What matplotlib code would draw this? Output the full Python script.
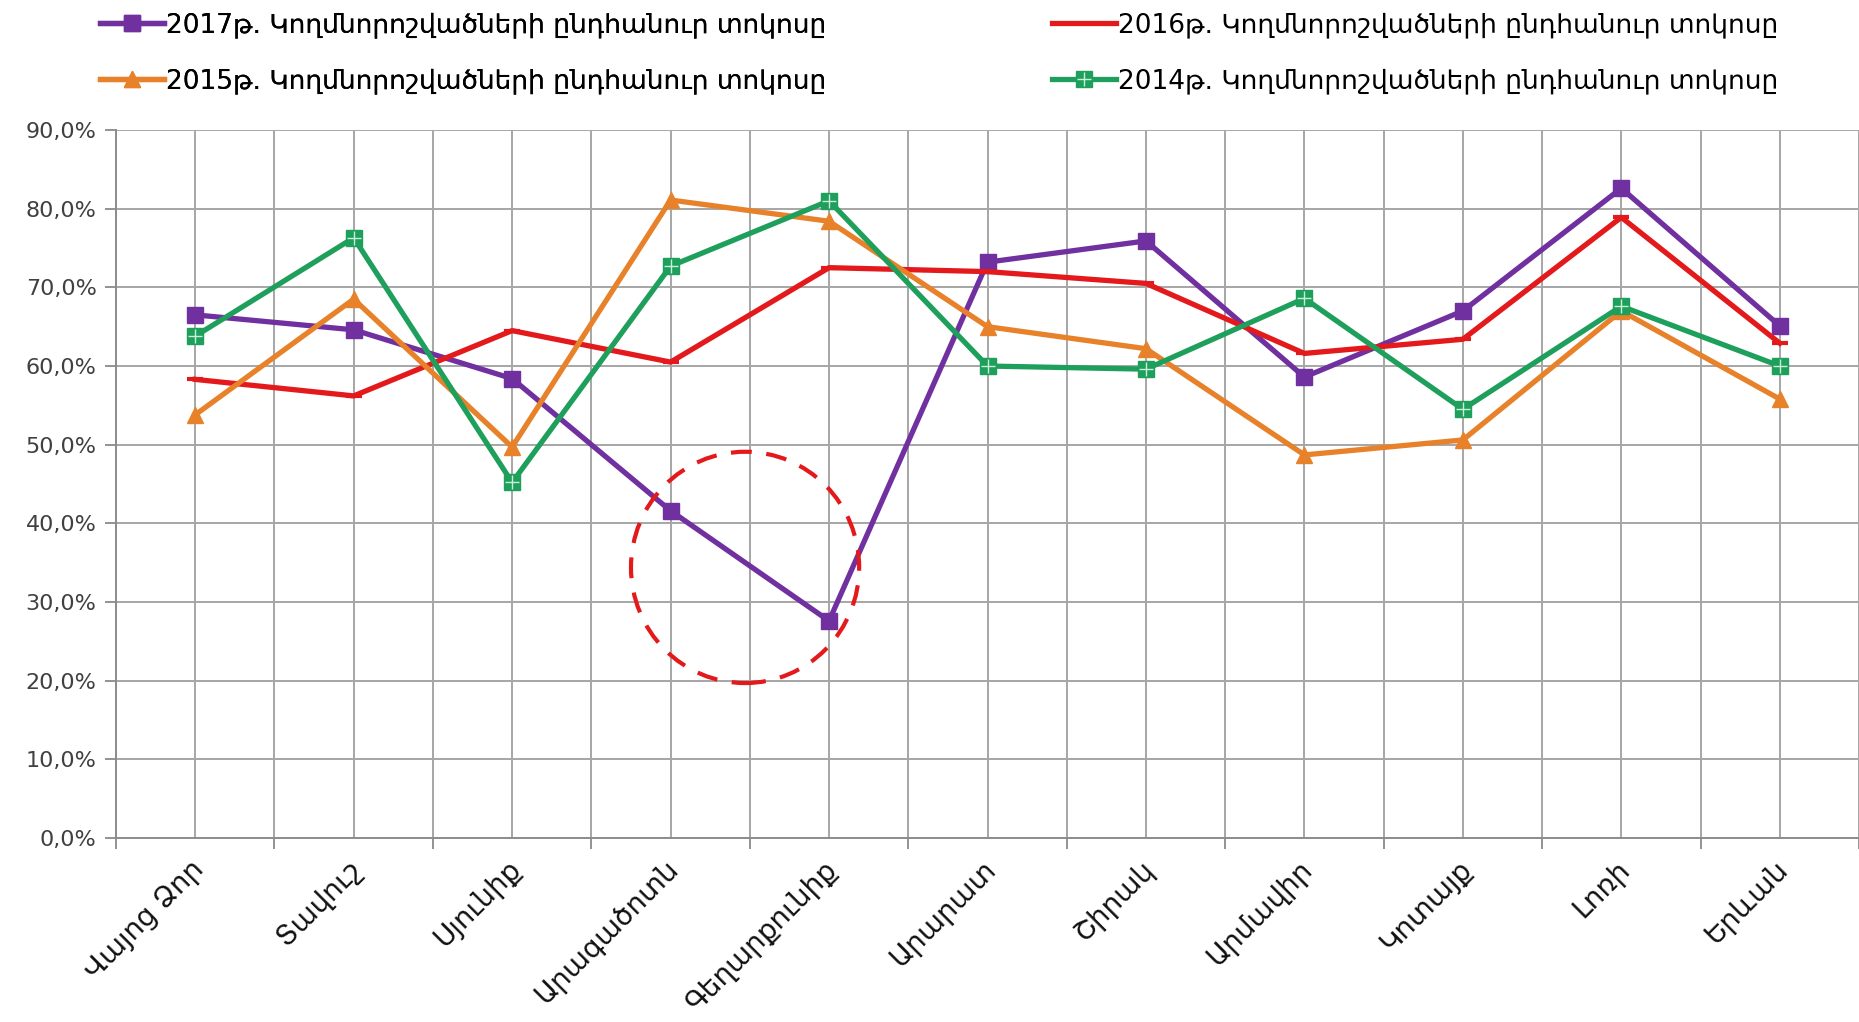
import matplotlib

matplotlib.use("Agg")
import matplotlib.pyplot as plt
import matplotlib.transforms as mtransforms
import numpy as np
from matplotlib.lines import Line2D
from matplotlib.patches import Ellipse
from matplotlib.ticker import FixedLocator, FuncFormatter

regions = [
    "Վայոց Ձոր",
    "Տավուշ",
    "Սյունիք",
    "Արագածոտն",
    "Գեղարքունիք",
    "Արարատ",
    "Շիրակ",
    "Արմավիր",
    "Կոտայք",
    "Լոռի",
    "Երևան",
]

share_2017 = [66.5, 64.6, 58.4, 41.6, 27.6, 73.2, 75.9, 58.6, 67.0, 82.6, 65.1]
share_2016 = [58.3, 56.2, 64.5, 60.5, 72.5, 72.0, 70.5, 61.6, 63.4, 78.9, 62.9]
share_2015 = [53.8, 68.5, 49.7, 81.1, 78.4, 65.0, 62.2, 48.7, 50.6, 67.0, 55.8]
share_2014 = [63.8, 76.3, 45.2, 72.7, 81.0, 60.0, 59.6, 68.6, 54.5, 67.6, 60.0]

label_tail = "թ. Կողմնորոշվածների ընդհանուր տոկոսը"

PURPLE = "#7030a0"
RED = "#e3191c"
ORANGE = "#e8822a"
GREEN = "#1f9f5c"


def pct_label(v, pos):
    return f"{v:.1f}%".replace(".", ",")


def main():
    plt.rcParams["font.family"] = ["DejaVu Sans"]
    fig = plt.figure(figsize=(18.59, 10.22), dpi=100)
    ax = fig.add_axes([0.0624, 0.18, 0.9376, 0.6928])

    x = np.arange(len(regions))
    lw = 3.8

    ax.plot(x, share_2017, color=PURPLE, lw=lw, marker="s", ms=11, zorder=3)
    ax.plot(x, share_2016, color=RED, lw=lw, marker="_", ms=12, mew=3, zorder=4)
    ax.plot(x, share_2015, color=ORANGE, lw=lw, marker="^", ms=11, zorder=5)
    ax.plot(x, share_2014, color=GREEN, lw=lw, marker="s", ms=11, zorder=6)
    ax.plot(x, share_2014, ls="none", marker="+", ms=10, mew=1.0,
            color="#c8f0d8", zorder=7)

    # dashed circle around the 2017 drop
    ax.add_patch(Ellipse((3.47, 34.4), 1.44, 29.4, fill=False, ec=RED,
                         lw=3.0, ls=(0, (5, 3.5)), zorder=8))

    ax.set_xlim(-0.5, len(regions) - 0.5)
    ax.set_ylim(0, 90)

    # boundaries get tick marks, centres get the labels
    ax.xaxis.set_major_locator(FixedLocator(np.arange(-0.5, len(regions), 1.0)))
    ax.xaxis.set_minor_locator(FixedLocator(x))
    ax.set_xticklabels([], minor=False)
    ax.set_xticklabels(regions, minor=True, rotation=45, ha="right",
                       va="top", fontsize=20, color="#111111")
    ax.tick_params(axis="x", which="major", length=8, width=1.2,
                   color="#808080")
    ax.tick_params(axis="x", which="minor", length=0, pad=12)
    shift = mtransforms.ScaledTranslation(14 / 100, 0, fig.dpi_scale_trans)
    for lab in ax.get_xticklabels(minor=True):
        lab.set_transform(lab.get_transform() + shift)

    ax.set_yticks(np.arange(0, 91, 10))
    ax.yaxis.set_major_formatter(FuncFormatter(pct_label))
    ax.tick_params(axis="y", length=8, width=1.2, color="#808080",
                   labelsize=16, labelcolor="#404040", pad=6)

    ax.grid(True, which="both", axis="x", color="#a6a6a6", lw=1.4)
    ax.grid(True, which="major", axis="y", color="#a6a6a6", lw=1.4)
    ax.set_axisbelow(True)
    for side in ["top", "right"]:
        ax.spines[side].set_visible(False)
    for side in ["left", "bottom"]:
        ax.spines[side].set_color("#8c8c8c")
        ax.spines[side].set_linewidth(1.4)

    h2017 = Line2D([], [], color=PURPLE, lw=lw, marker="s", ms=11)
    h2016 = Line2D([], [], color=RED, lw=lw)
    h2015 = Line2D([], [], color=ORANGE, lw=lw, marker="^", ms=11)
    h2014 = (Line2D([], [], color=GREEN, lw=lw, marker="s", ms=11),
             Line2D([], [], ls="none", marker="+", ms=10, mew=1.0,
                    color="#c8f0d8"))

    leg_kw = dict(loc="upper left", frameon=False, fontsize=19,
                  handlelength=2.4, handletextpad=0.1, labelspacing=1.15,
                  borderaxespad=0, borderpad=0)
    leg1 = fig.legend([h2017, h2015], [f"2017{label_tail}", f"2015{label_tail}"],
                      bbox_to_anchor=(0.054, 0.988), **leg_kw)
    fig.legend([h2016, h2014], [f"2016{label_tail}", f"2014{label_tail}"],
               bbox_to_anchor=(0.566, 0.988), **leg_kw)
    fig.add_artist(leg1)

    fig.savefig("out.png", dpi=100)


if __name__ == "__main__":
    main()
